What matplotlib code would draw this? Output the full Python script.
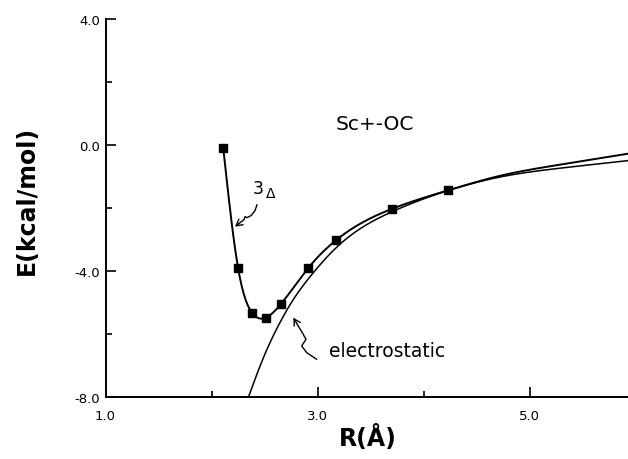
import numpy as np
import matplotlib
matplotlib.use("Agg")
import matplotlib.pyplot as plt
from matplotlib.path import Path
from matplotlib.patches import FancyArrowPatch
from matplotlib.ticker import FormatStrFormatter

plt.rcParams['font.family'] = ['DejaVu Sans']

# --- data ---
r_delta = [2.11, 2.25, 2.38, 2.51, 2.65, 2.91, 3.17, 3.70, 4.23]
e_delta = [-0.10, -3.90, -5.31, -5.47, -5.05, -3.90, -3.02, -2.02, -1.43]
# continuation of the 3-Delta curve beyond the last computed point
r_delta_tail = [4.72, 5.28, 5.925]
e_delta_tail = [-0.97, -0.62, -0.27]

r_elec = [2.346, 2.487, 2.645, 2.739, 2.928, 3.210, 3.688, 4.228, 4.718, 5.284, 5.925]
e_elec = [-8.00, -6.75, -5.62, -5.06, -4.17, -3.14, -2.13, -1.44, -1.01, -0.73, -0.49]

x_major = [1.0, 3.0, 5.0]
x_minor = [2.0, 4.0]
y_major = [4.0, 0.0, -4.0, -8.0]
y_minor = [2.0, -2.0, -6.0]


def natural_spline(x, y, n=400):
    x = np.asarray(x, float)
    y = np.asarray(y, float)
    k = len(x)
    h = np.diff(x)
    A = np.zeros((k, k))
    b = np.zeros(k)
    A[0, 0] = 1
    A[-1, -1] = 1
    for i in range(1, k - 1):
        A[i, i - 1] = h[i - 1]
        A[i, i] = 2 * (h[i - 1] + h[i])
        A[i, i + 1] = h[i]
        b[i] = 6 * ((y[i + 1] - y[i]) / h[i] - (y[i] - y[i - 1]) / h[i - 1])
    M = np.linalg.solve(A, b)
    xs = np.linspace(x[0], x[-1], n)
    idx = np.clip(np.searchsorted(x, xs) - 1, 0, k - 2)
    x0, x1 = x[idx], x[idx + 1]
    hh = x1 - x0
    t0 = x1 - xs
    t1 = xs - x0
    ys = (M[idx] * t0 ** 3 / (6 * hh) + M[idx + 1] * t1 ** 3 / (6 * hh)
          + (y[idx] / hh - M[idx] * hh / 6) * t0
          + (y[idx + 1] / hh - M[idx + 1] * hh / 6) * t1)
    return xs, ys


fig = plt.figure(figsize=(6.28, 4.60), dpi=100)
ax = fig.add_axes([0.168, 0.1337, 0.832, 0.8228])

# electrostatic curve
xs, ys = natural_spline(r_elec, e_elec)
ax.plot(xs, ys, color='black', lw=1.1)

# 3-Delta curve
xs, ys = natural_spline(r_delta + r_delta_tail, e_delta + e_delta_tail)
ax.plot(xs, ys, color='black', lw=1.4)
ax.plot(r_delta, e_delta, linestyle='none', marker='s', markersize=5.5,
        color='black')

ax.set_xlim(1.0, 5.925)
ax.set_ylim(-8.0, 4.0)

for s in ['top', 'right']:
    ax.spines[s].set_visible(False)
for s in ['left', 'bottom']:
    ax.spines[s].set_linewidth(1.4)

ax.set_xticks(x_major)
ax.set_xticks(x_minor, minor=True)
ax.set_yticks(y_major)
ax.set_yticks(y_minor, minor=True)
ax.xaxis.set_major_formatter(FormatStrFormatter('%.1f'))
ax.yaxis.set_major_formatter(FormatStrFormatter('%.1f'))
ax.tick_params(which='major', direction='in', length=7, width=1.2,
               labelsize=9.5, color='black')
ax.tick_params(which='minor', direction='in', length=4, width=1.2)
ax.tick_params(axis='x', which='major', pad=8)
ax.tick_params(axis='y', which='major', pad=4)

ax.set_xlabel('R(Å)', fontsize=17, fontweight='bold', va='center')
ax.xaxis.set_label_coords(0.502, -0.104)
ax.set_ylabel('E(kcal/mol)', fontsize=17, fontweight='bold', va='center')
ax.yaxis.set_label_coords(-0.150, 0.522)

# texts
ax.text(3.54, 0.70, 'Sc+-OC', fontsize=14.5, ha='center', va='center')
ax.text(2.44, -1.505, '3', fontsize=12.5, ha='center', va='baseline')
ax.text(2.56, -1.64, 'Δ', fontsize=10, ha='center', va='baseline')
ax.text(3.109, -6.67, 'electrostatic', fontsize=13.5, ha='left',
        va='baseline')

# squiggly arrows
arr1_r = [2.428, 2.409, 2.371, 2.334, 2.315, 2.306, 2.220]
arr1_e = [-1.886, -2.076, -2.235, -2.298, -2.266, -2.361, -2.583]
arr2_r = [2.991, 2.896, 2.849, 2.890, 2.864, 2.770]
arr2_e = [-6.789, -6.577, -6.365, -6.155, -5.997, -5.468]
for rr, ee in [(arr1_r, arr1_e), (arr2_r, arr2_e)]:
    verts = list(zip(rr, ee))
    codes = [Path.MOVETO] + [Path.LINETO] * (len(verts) - 1)
    p = FancyArrowPatch(path=Path(verts, codes),
                        arrowstyle='->,head_length=0.45,head_width=0.25',
                        mutation_scale=10, color='black', lw=1.0)
    ax.add_patch(p)

fig.savefig('out.png', dpi=100)
